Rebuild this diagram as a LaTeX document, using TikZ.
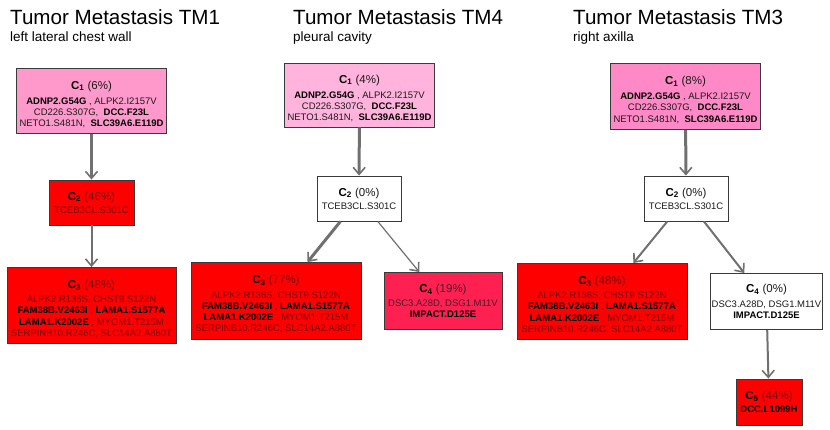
\documentclass[tikz,border=0pt]{standalone}
\usepackage{fontspec}
\setmainfont{Liberation Sans}
\usetikzlibrary{arrows.meta}
\definecolor{pinkA}{HTML}{FF99CC}
\definecolor{pinkB}{HTML}{FFB3DD}
\definecolor{pinkC}{HTML}{FF88C6}
\definecolor{clonered}{HTML}{FF0000}
\definecolor{crimson}{HTML}{FF2052}
\definecolor{boxline}{HTML}{3A3A3A}
\definecolor{edgegray}{HTML}{707070}
\definecolor{dimred}{HTML}{7A0606}
\definecolor{ink}{HTML}{1A1A1A}
\newcommand{\hdr}[3][0pt]{{\fontsize{11.5}{13}\selectfont\rule{0pt}{#1}\textbf{\color{black}C\textsubscript{#2}} (#3)}}
\newcommand{\mut}[1]{\textbf{\color{black}#1}}
\tikzset{
  clone/.style={draw=boxline,line width=0.9pt,align=center,inner sep=1pt,
    font=\fontsize{9.5}{11.2}\selectfont,text=ink},
  pinkclone/.style={clone,minimum width=150pt,minimum height=65pt},
  redclone/.style={clone,fill=clonered,text=dimred},
  whiteclone/.style={clone,fill=white},
  title/.style={font=\fontsize{20.6}{22}\selectfont,anchor=base west,inner sep=0pt},
  place/.style={font=\fontsize{13.5}{15}\selectfont,anchor=base west,inner sep=0pt},
  arr/.style={-{Straight Barb[length=7pt,width=12pt,line width=1.6pt]},draw=edgegray,line width=2pt},
  thickarr/.style={arr,line width=3pt},
  thinarr/.style={arr,line width=1.2pt},
}
\begin{document}
\begin{tikzpicture}[x=1pt,y=-1pt]
  \useasboundingbox (0,0) rectangle (830,430);
  % TM1
  \node[title] (t1) at (10,25) {Tumor Metastasis TM1};
  \node[place] (p1) at (10,42) {left lateral chest wall};
  \node[pinkclone,fill=pinkA] (a1) at (91.5,101) {\hdr[15pt]{1}{6\%}\\[4pt]
    \mut{ADNP2.G54G} , ALPK2.I2157V\\CD226.S307G,\ \ \mut{DCC.F23L}\\NETO1.S481N,\ \ \mut{SLC39A6.E119D}};
  \node[redclone,minimum width=85pt,minimum height=45pt] (a2) at (91.5,202.5) {\hdr{2}{46\%}\\[2pt]TCEB3CL.S301C};
  \node[redclone,minimum width=169pt,minimum height=76pt] (a3) at (91.5,305.5) {\hdr[15pt]{3}{48\%}\\[3pt]
    ALPK2.R136S, CHST9.S122N\\\mut{FAM38B.V2463I} , \mut{LAMA1.S1577A}\\
    \mut{LAMA1.K2002E} , MYOM1.T215M\\SERPINB10.R246C, SLC14A2.A880T};
  \draw[thickarr] (a1) -- (a2);
  \draw[arr] (a2) -- (a3);
  % TM4
  \node[title] (t4) at (293,25) {Tumor Metastasis TM4};
  \node[place] (p4) at (293,42) {pleural cavity};
  \node[pinkclone,fill=pinkB,minimum height=64pt] (b1) at (359.5,95) {\hdr[15pt]{1}{4\%}\\[4pt]
    \mut{ADNP2.G54G} , ALPK2.I2157V\\CD226.S307G,\ \ \mut{DCC.F23L}\\NETO1.S481N,\ \ \mut{SLC39A6.E119D}};
  \node[whiteclone,minimum width=84pt,minimum height=45pt] (b2) at (359,198.5) {\hdr{2}{0\%}\\[2pt]TCEB3CL.S301C};
  \node[redclone,minimum width=170pt,minimum height=77pt] (b3) at (276,301) {\hdr[15pt]{3}{77\%}\\[3pt]
    ALPK2.R136S, CHST9.S122N\\\mut{FAM38B.V2463I} , \mut{LAMA1.S1577A}\\
    \mut{LAMA1.K2002E} , MYOM1.T215M\\SERPINB10.R246C, SLC14A2.A880T};
  \node[redclone,fill=crimson,text=ink!80!crimson,minimum width=118pt,minimum height=57pt] (b4) at (443,301) {\hdr{4}{19\%}\\[3pt]
    DSC3.A28D, DSG1.M11V\\\mut{IMPACT.D125E}};
  \draw[thickarr] (b1) -- (b2);
  \draw[thickarr] (b2) -- (b3);
  \draw[thinarr] (b2) -- (b4);
  % TM3
  \node[title] (t3) at (573,25) {Tumor Metastasis TM3};
  \node[place] (p3) at (573,42) {right axilla};
  \node[pinkclone,fill=pinkC,minimum height=66pt] (c1) at (685.5,96.5) {\hdr[15pt]{1}{8\%}\\[4pt]
    \mut{ADNP2.G54G} , ALPK2.I2157V\\CD226.S307G,\ \ \mut{DCC.F23L}\\NETO1.S481N,\ \ \mut{SLC39A6.E119D}};
  \node[whiteclone,minimum width=84pt,minimum height=45pt] (c2) at (686,198.5) {\hdr{2}{0\%}\\[2pt]TCEB3CL.S301C};
  \node[redclone,minimum width=170pt,minimum height=76pt] (c3) at (602,301.5) {\hdr[15pt]{3}{48\%}\\[3pt]
    ALPK2.R136S, CHST9.S122N\\\mut{FAM38B.V2463I} , \mut{LAMA1.S1577A}\\
    \mut{LAMA1.K2002E} , MYOM1.T215M\\SERPINB10.R246C, SLC14A2.A880T};
  \node[whiteclone,minimum width=111pt,minimum height=56pt] (c4) at (766.5,301.5) {\hdr{4}{0\%}\\[3pt]
    DSC3.A28D, DSG1.M11V\\\mut{IMPACT.D125E}};
  \node[redclone,minimum width=66pt,minimum height=46pt] (c5) at (769,402) {\hdr{5}{44\%}\\[2pt]\mut{DCC.L1099H}};
  \draw[thickarr] (c1) -- (c2);
  \draw[arr] (c2) -- (c3);
  \draw[arr] (c2) -- (c4);
  \draw[arr] (c4) -- (c5);
\end{tikzpicture}
\end{document}
